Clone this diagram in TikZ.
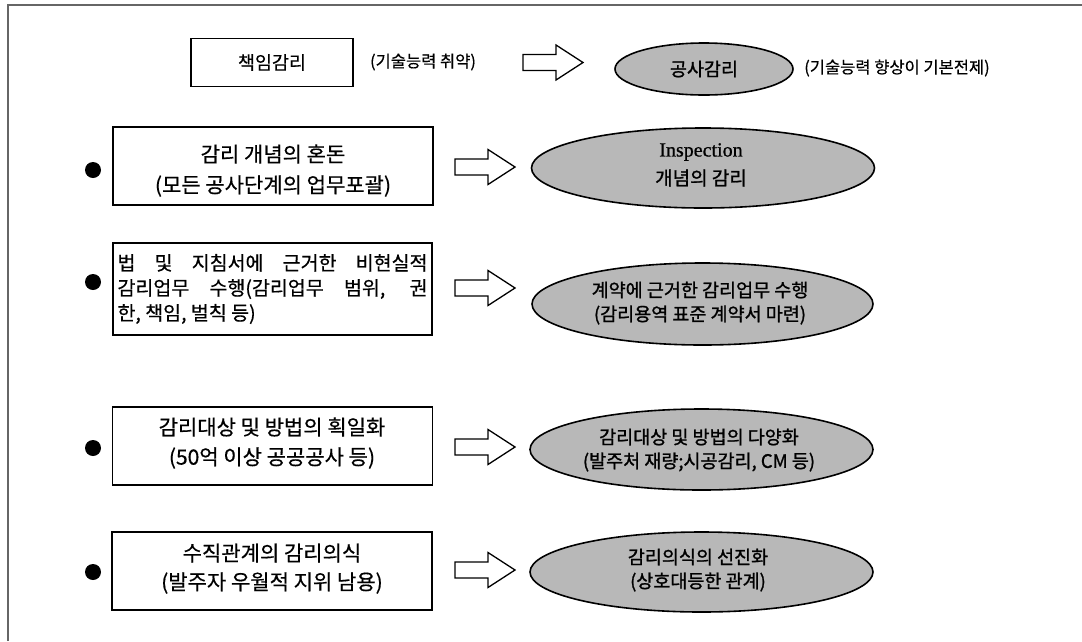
\documentclass[tikz,border=0pt]{standalone}
\usepackage{fontspec}
\setmainfont[FakeBold=0.5]{Noto Sans CJK KR}
\newfontfamily\ovalfont[FakeBold=1.2]{Noto Sans CJK KR}
\newfontfamily\latinserif[FakeBold=0.8]{Liberation Serif}
\usetikzlibrary{shapes.geometric}
\tikzset{
  box/.style={draw, line width=1.6pt, inner sep=0pt, minimum width=320pt, minimum height=78pt},
  oval/.style={ellipse, draw, line width=1.6pt, fill=black!28, inner sep=0pt, minimum width=343pt, minimum height=80pt},
  txt/.style={inner sep=0pt},
  dot/.style={circle, fill=black, inner sep=0pt, minimum size=16pt},
  hollowarrow/.pic={\draw[line width=1.3pt, fill=white]
    (-30,-8) -- (3,-8) -- (3,-17.5) -- (30,0) -- (3,17.5) -- (3,8) -- (-30,8) -- cycle;}
}
\begin{document}
\begin{tikzpicture}[x=1pt,y=-1pt]
\useasboundingbox (0,0) rectangle (1082,641);
% outer frame
\draw[black!60, line width=1.5pt] (8,641) -- (8,5) -- (1082,5);

% row 1
\node[draw, line width=1.6pt, inner sep=0pt, minimum width=162, minimum height=48, font=\fontsize{18.5pt}{22pt}\selectfont] (b1) at (272,62.5) {책임감리};
\node[txt, font=\fontsize{16.5pt}{20pt}\selectfont] (n1) at (423,62) {(기술능력 취약)};
\pic (a1) at (553,62.5) {hollowarrow};
\node[oval, minimum width=178, minimum height=52] (e1) at (704,69) {};
\node[txt, font=\ovalfont\fontsize{18.5pt}{22pt}\selectfont] (t1) at (e1.center) {공사감리};
\node[txt, font=\fontsize{16.5pt}{20pt}\selectfont] (m1) at (897,68) {(기술능력 향상이 기본전제)};

% row 2
\node[dot] (d2) at (93,170) {};
\node[box] (b2) at (273,166) {};
\node[txt, font=\fontsize{21pt}{24pt}\selectfont] (b2a) at (273,154) {감리 개념의 혼돈};
\node[txt, font=\fontsize{21pt}{24pt}\selectfont] (b2b) at (273,186) {(모든 공사단계의 업무포괄)};
\pic (a2) at (485,167) {hollowarrow};
\node[oval] (e2) at (703,168) {};
\node[txt, font=\latinserif\fontsize{20pt}{24pt}\selectfont] (e2a) at (701,152) {Inspection};
\node[txt, font=\ovalfont\fontsize{19pt}{24pt}\selectfont] (e2b) at (701,178) {개념의 감리};

% row 3
\node[dot] (d3) at (93,282) {};
\node[draw, line width=1.6pt, inner sep=0pt, minimum width=319, minimum height=92, text width=310pt, align=justify, font=\fontsize{19.5pt}{25pt}\selectfont] (b3) at (272.5,289)
  {법 및 지침서에 근거한 비현실적\linebreak 감리업무 수행(감리업무 범위, 권\linebreak 한, 책임, 벌칙 등)};
\pic (a3) at (485,288) {hollowarrow};
\node[oval, minimum width=341, minimum height=82] (e3) at (702.5,304) {};
\node[txt, font=\ovalfont\fontsize{18.5pt}{24pt}\selectfont] (e3a) at (700,290) {계약에 근거한 감리업무 수행};
\node[txt, font=\ovalfont\fontsize{18.5pt}{24pt}\selectfont] (e3b) at (700,315) {(감리용역 표준 계약서 마련)};

% row 4
\node[dot] (d4) at (93,448) {};
\node[box] (b4) at (272.5,446) {};
\node[txt, font=\fontsize{21pt}{24pt}\selectfont] (b4a) at (272,427) {감리대상 및 방법의 획일화};
\node[txt, font=\fontsize{21pt}{24pt}\selectfont] (b4b) at (272,458) {(50억 이상 공공공사 등)};
\pic (a4) at (485,447) {hollowarrow};
\node[oval, minimum height=81] (e4) at (701.5,449.5) {};
\node[txt, font=\ovalfont\fontsize{18.5pt}{24pt}\selectfont] (e4a) at (699,437) {감리대상 및 방법의 다양화};
\node[txt, font=\ovalfont\fontsize{18.5pt}{24pt}\selectfont] (e4b) at (699,462) {(발주처 재량;시공감리, CM 등)};

% row 5
\node[dot] (d5) at (93,572) {};
\node[box] (b5) at (272,571) {};
\node[txt, font=\fontsize{21pt}{24pt}\selectfont] (b5a) at (272,553) {수직관계의 감리의식};
\node[txt, font=\fontsize{21pt}{24pt}\selectfont] (b5b) at (272,583) {(발주자 우월적 지위 남용)};
\pic (a5) at (485,570) {hollowarrow};
\node[oval] (e5) at (701.5,572) {};
\node[txt, font=\ovalfont\fontsize{18.5pt}{24pt}\selectfont] (e5a) at (698,557) {감리의식의 선진화};
\node[txt, font=\ovalfont\fontsize{18.5pt}{24pt}\selectfont] (e5b) at (698,582) {(상호대등한 관계)};
\end{tikzpicture}
\end{document}
